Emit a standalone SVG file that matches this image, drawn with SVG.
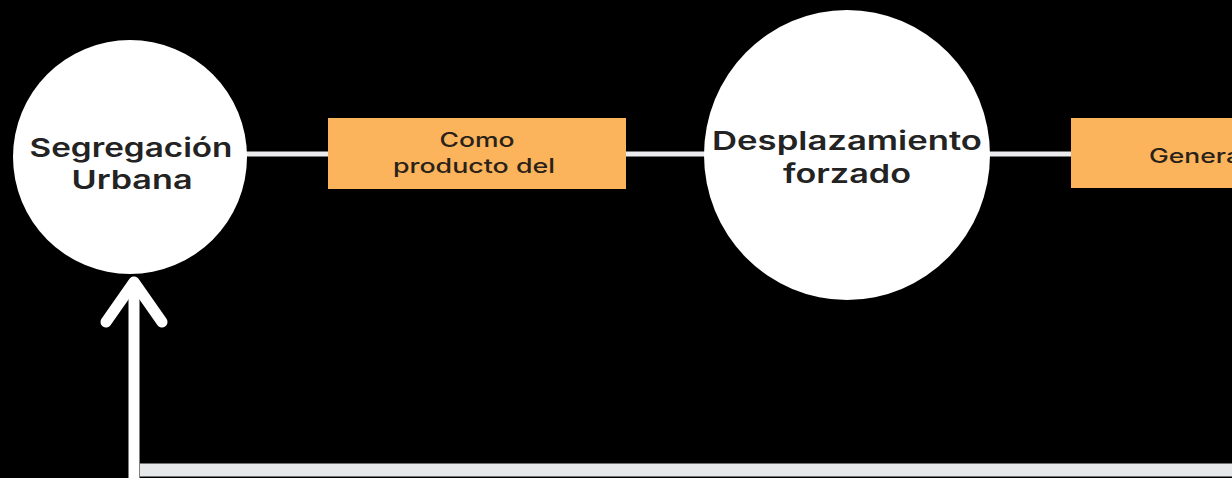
<svg xmlns="http://www.w3.org/2000/svg" width="1232" height="478" viewBox="0 0 1232 478">
<style>
.node{fill:#ffffff}
.box{fill:#fbb45c}
.t1{font-family:Inter,"DejaVu Sans",sans-serif;font-weight:600;font-size:26px;fill:#232323;text-anchor:middle}
.t2{font-family:Inter,"DejaVu Sans",sans-serif;font-weight:500;font-size:20px;fill:#2a2218;text-anchor:middle}
.conn{stroke:#ececee;stroke-width:5;fill:none}
</style>
<rect width="1232" height="478" fill="#000000"/>
<g id="connectors">
<line class="conn" x1="246" y1="154" x2="330" y2="154"/>
<line class="conn" x1="624" y1="154" x2="706" y2="154"/>
<line class="conn" x1="989" y1="154" x2="1073" y2="154"/>
<line x1="140" y1="470" x2="1232" y2="470" stroke="#e7e8ea" stroke-width="13"/>
<line x1="134" y1="478" x2="134" y2="282" stroke="#ffffff" stroke-width="11"/>
<polyline points="106,322 134,282 162,322" fill="none" stroke="#ffffff" stroke-width="11" stroke-linecap="round" stroke-linejoin="round"/>
</g>
<g id="n1">
<circle class="node" cx="130" cy="157" r="117"/>
<text class="t1" x="131" y="157" textLength="203" lengthAdjust="spacingAndGlyphs">Segregación</text>
<text class="t1" x="132" y="189" textLength="121" lengthAdjust="spacingAndGlyphs">Urbana</text>
</g>
<g id="n2">
<rect class="box" x="328" y="118" width="298" height="71"/>
<text class="t2" x="477" y="147" textLength="75" lengthAdjust="spacingAndGlyphs">Como</text>
<text class="t2" x="474" y="173" textLength="162" lengthAdjust="spacingAndGlyphs">producto del</text>
</g>
<g id="n3">
<ellipse class="node" cx="847" cy="155" rx="143" ry="145"/>
<text class="t1" x="847" y="150" textLength="270" lengthAdjust="spacingAndGlyphs">Desplazamiento</text>
<text class="t1" x="847" y="183" textLength="128" lengthAdjust="spacingAndGlyphs">forzado</text>
</g>
<g id="n4">
<rect class="box" x="1071" y="118" width="170" height="70"/>
<text class="t2" x="1149" y="163" style="text-anchor:start" textLength="92" lengthAdjust="spacingAndGlyphs">Genera</text>
</g>
</svg>
